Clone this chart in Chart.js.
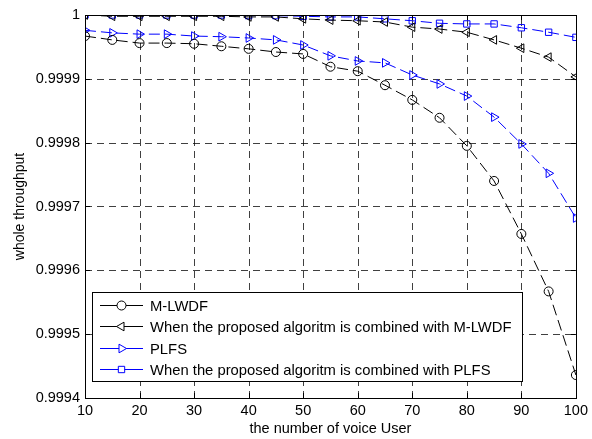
<!DOCTYPE html>
<html>
<head>
<meta charset="utf-8">
<script src="https://cdn.jsdelivr.net/npm/chart.js@4/dist/chart.umd.min.js"></script>
<style>
  html, body { margin: 0; padding: 0; background: #fff; }
  #wrap { width: 592px; height: 439px; }
</style>
</head>
<body>
<div id="wrap"><canvas id="c" width="592" height="439"></canvas></div>
<script>
// data
const users = [10, 15, 20, 25, 30, 35, 40, 45, 50, 55, 60, 65, 70, 75, 80, 85, 90, 95, 100];
const mlwdf = [0.999967, 0.999961, 0.999956, 0.999956, 0.999955, 0.999951, 0.999947, 0.999942, 0.999939,
  0.999919, 0.999912, 0.999890, 0.999867, 0.999839, 0.999795, 0.999740, 0.999657, 0.999567, 0.999436];
const mlwdfProposed = [1.0, 0.999998, 0.999998, 0.999998, 0.999998, 0.999998, 0.999997, 0.999997, 0.999994,
  0.999992, 0.999991, 0.999989, 0.999981, 0.999978, 0.999973, 0.999961, 0.999948, 0.999934, 0.999903];
const plfs = [0.999976, 0.999972, 0.999970, 0.999970, 0.999967, 0.999966, 0.999964, 0.999961, 0.999953,
  0.999936, 0.999928, 0.999925, 0.999906, 0.999892, 0.999873, 0.999840, 0.999798, 0.999752, 0.999682];
const plfsProposed = [1.0, 1.0, 1.0, 1.0, 1.0, 1.0, 0.999999, 0.999999, 0.999998,
  0.999997, 0.999997, 0.999994, 0.999991, 0.999987, 0.999986, 0.999986, 0.999980, 0.999973, 0.999965];

const xTicks = [10, 20, 30, 40, 50, 60, 70, 80, 90, 100];
const yTicks = [0.9994, 0.9995, 0.9996, 0.9997, 0.9998, 0.9999, 1];
const yTickLabels = ['0.9994', '0.9995', '0.9996', '0.9997', '0.9998', '0.9999', '1'];

const seriesNames = ['M-LWDF', 'When the proposed algoritm is combined with M-LWDF',
  'PLFS', 'When the proposed algoritm is combined with PLFS'];

const FONT = '"Liberation Sans", Arial, Helvetica, sans-serif';

function pts(ys) {
  return users.map((u, i) => ({ x: u, y: ys[i] }));
}

function series(label, ys, color, style, rot, radius) {
  return {
    label: label,
    data: pts(ys),
    borderColor: color,
    borderWidth: 1,
    borderDash: [11, 5],
    backgroundColor: 'rgba(0,0,0,0)',
    pointStyle: style,
    pointRotation: rot,
    pointRadius: radius,
    pointBorderColor: color,
    pointBackgroundColor: 'rgba(0,0,0,0)',
    pointBorderWidth: 1,
    tension: 0,
    fill: false
  };
}

// dashed grid, box, inward ticks and legend like the matlab figure
const figurePlugin = {
  id: 'figure',
  beforeDatasetsDraw(chart) {
    const ctx = chart.ctx;
    const a = chart.chartArea;
    const xs = chart.scales.x, ys = chart.scales.y;
    ctx.save();
    ctx.strokeStyle = 'rgba(0,0,0,0.75)';
    ctx.lineWidth = 1;
    ctx.setLineDash([7, 5]);
    xTicks.forEach(t => {
      const px = Math.round(xs.getPixelForValue(t)) + 0.5;
      ctx.beginPath();
      ctx.moveTo(px, a.bottom); ctx.lineTo(px, a.top);
      ctx.stroke();
    });
    yTicks.forEach(t => {
      const py = Math.round(ys.getPixelForValue(t)) + 0.5;
      ctx.beginPath();
      ctx.moveTo(a.left, py); ctx.lineTo(a.right, py);
      ctx.stroke();
    });
    ctx.restore();
  },
  afterDatasetsDraw(chart) {
    const ctx = chart.ctx;
    const a = chart.chartArea;
    const xs = chart.scales.x, ys = chart.scales.y;
    ctx.save();
    ctx.strokeStyle = '#000';
    ctx.lineWidth = 1;
    ctx.setLineDash([]);
    ctx.beginPath();
    xTicks.forEach(t => {
      const px = Math.round(xs.getPixelForValue(t)) + 0.5;
      ctx.moveTo(px, a.bottom); ctx.lineTo(px, a.bottom - 5);
      ctx.moveTo(px, a.top); ctx.lineTo(px, a.top + 5);
    });
    yTicks.forEach(t => {
      const py = Math.round(ys.getPixelForValue(t)) + 0.5;
      ctx.moveTo(a.left, py); ctx.lineTo(a.left + 5, py);
      ctx.moveTo(a.right, py); ctx.lineTo(a.right - 5, py);
    });
    ctx.stroke();
    ctx.strokeRect(Math.round(a.left) + 0.5, Math.round(a.top) + 0.5,
      Math.round(a.right - a.left), Math.round(a.bottom - a.top));

    // legend
    const lx = 92, ly = 292, lw = 430, lh = 89;
    ctx.fillStyle = '#fff';
    ctx.fillRect(lx, ly, lw, lh);
    ctx.strokeRect(lx + 0.5, ly + 0.5, lw, lh);
    ctx.font = '14.8px ' + FONT;
    ctx.textBaseline = 'middle';
    chart.data.datasets.forEach((ds, i) => {
      const yy = Math.round(305 + i * 21.4) + 0.5;
      ctx.strokeStyle = ds.borderColor;
      ctx.beginPath();
      ctx.moveTo(100, yy);
      ctx.lineTo(143, yy);
      ctx.stroke();
      ctx.fillStyle = '#fff';
      Chart.helpers.drawPoint(ctx, {
        pointStyle: ds.pointStyle,
        rotation: ds.pointRotation,
        radius: ds.pointRadius,
        borderWidth: 1
      }, 121.5, yy);
      ctx.fillStyle = '#000';
      ctx.fillText(ds.label, 150, yy + 1);
    });
    ctx.restore();
  }
};

new Chart(document.getElementById('c'), {
  type: 'line',
  data: {
    datasets: [
      series(seriesNames[0], mlwdf, '#000000', 'circle', 0, 4.5),
      series(seriesNames[1], mlwdfProposed, '#000000', 'triangle', -90, 5),
      series(seriesNames[2], plfs, '#0000ff', 'triangle', 90, 5),
      series(seriesNames[3], plfsProposed, '#0000ff', 'rect', 0, 4.5)
    ]
  },
  options: {
    responsive: false,
    animation: false,
    layout: { padding: { top: 15, right: 13, left: 12, bottom: 0 } },
    plugins: {
      legend: { display: false },
      tooltip: { enabled: false }
    },
    scales: {
      x: {
        type: 'linear',
        min: 10,
        max: 100,
        afterBuildTicks(s) { s.ticks = xTicks.map(v => ({ value: v })); },
        afterFit(s) { s.height = 41; },
        grid: { display: false, drawTicks: false },
        border: { display: false },
        ticks: {
          color: '#000',
          font: { family: FONT, size: 14.5 },
          padding: 4,
          maxRotation: 0,
          autoSkip: false,
          callback: v => String(v)
        },
        title: {
          display: true,
          text: 'the number of voice User',
          color: '#000',
          font: { family: FONT, size: 14.5 },
          padding: { top: 0, bottom: 1 }
        }
      },
      y: {
        type: 'linear',
        min: 0.9994,
        max: 1,
        afterBuildTicks(s) { s.ticks = yTicks.map(v => ({ value: v })); },
        afterFit(s) { s.width = 73; },
        grid: { display: false, drawTicks: false },
        border: { display: false },
        ticks: {
          color: '#000',
          font: { family: FONT, size: 14.5 },
          padding: 5,
          autoSkip: false,
          callback: (v, i) => yTickLabels[i]
        },
        title: {
          display: true,
          text: 'whole throughput',
          color: '#000',
          font: { family: FONT, size: 14 },
          padding: { top: 0, bottom: 2 }
        }
      }
    }
  },
  plugins: [figurePlugin]
});
</script>
</body>
</html>
